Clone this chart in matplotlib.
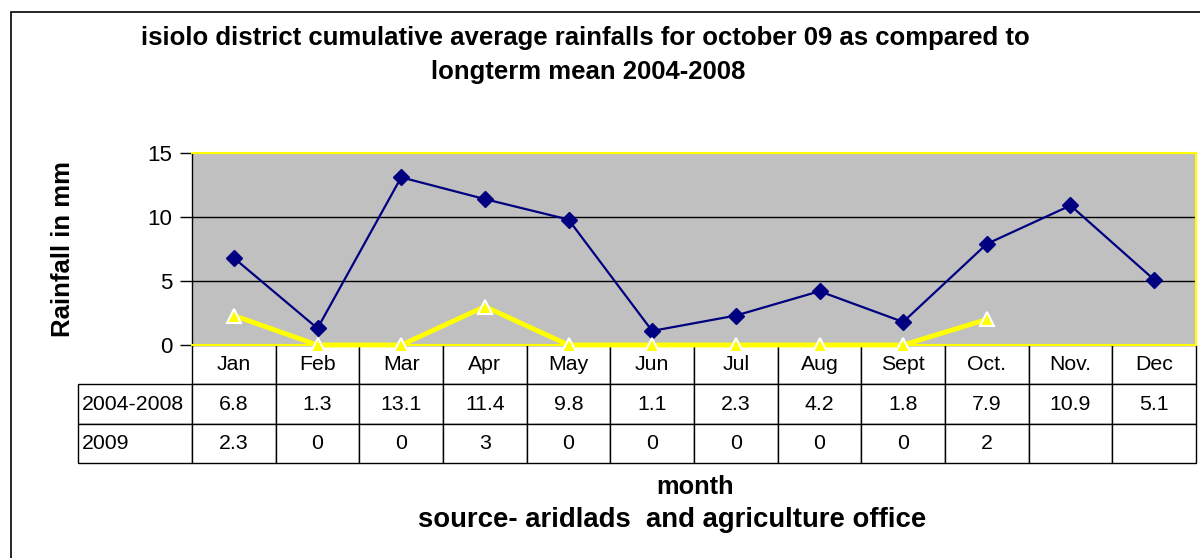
import matplotlib
matplotlib.use("Agg")
import matplotlib.pyplot as plt
from matplotlib.table import Table
from matplotlib.patches import Rectangle

months = ['Jan', 'Feb', 'Mar', 'Apr', 'May', 'Jun', 'Jul', 'Aug', 'Sept', 'Oct.', 'Nov.', 'Dec']
mean_2004_2008 = [6.8, 1.3, 13.1, 11.4, 9.8, 1.1, 2.3, 4.2, 1.8, 7.9, 10.9, 5.1]
rain_2009 = [2.3, 0, 0, 3, 0, 0, 0, 0, 0, 2]
series_names = ['2004-2008', '2009']

plt.rcParams['font.family'] = ['Liberation Sans', 'DejaVu Sans']

W, H = 1200, 558
fig = plt.figure(figsize=(W / 100, H / 100), dpi=100)

# outer chart border (only left/top visible in the crop)
fig.add_artist(Rectangle((11 / W, -0.05), 1.2, 1 - 12 / H + 0.05, transform=fig.transFigure,
                         fill=False, edgecolor='black', linewidth=1.2))

# plot area in pixels: x 192..1196, y 153..345
ax = fig.add_axes([192 / W, 1 - 345 / H, 1004 / W, 192 / H])
ax.set_facecolor('#c0c0c0')
x = list(range(len(months)))
ax.set_xlim(-0.5, len(months) - 0.5)
ax.set_ylim(0, 15)
ax.set_yticks([0, 5, 10, 15])
ax.tick_params(axis='y', labelsize=16, length=9, width=1, direction='out', pad=5)
ax.set_xticks([])
for y in [5, 10]:
    ax.axhline(y, color='black', linewidth=1, zorder=1)
for side in ['top', 'right', 'bottom']:
    ax.spines[side].set_color('yellow')
    ax.spines[side].set_linewidth(1.5)
ax.spines['left'].set_color('black')
ax.spines['left'].set_linewidth(1)

ax.plot(x, mean_2004_2008, color='#000080', linewidth=1.6, marker='D', markersize=8,
        markerfacecolor='#000080', markeredgecolor='#000080', zorder=3, clip_on=False)
ax.plot(x[:len(rain_2009)], rain_2009, color='yellow', linewidth=3.5, marker='^', markersize=10,
        markerfacecolor='yellow', markeredgecolor='white', markeredgewidth=1.5, zorder=4, clip_on=False)

ax.set_ylabel('Rainfall in mm', fontsize=18.5, fontweight='bold', labelpad=52)

# data table beneath the plot: x 78..1196, y 345..463
tb = Table(ax, bbox=[(78 - 192) / 1004, -(463 - 345) / 192, (1196 - 78) / 1004, (463 - 345) / 192])
label_w, col_w, row_h = 114, 1004 / 12, 1
for j, m in enumerate(months):
    tb.add_cell(0, j + 1, col_w, row_h, text=m, loc='center', edgecolor='black')
rows = [mean_2004_2008, rain_2009]
for i, (name, vals) in enumerate(zip(series_names, rows)):
    tb.add_cell(i + 1, 0, label_w, row_h, text=name, loc='left', edgecolor='black')
    for j in range(len(months)):
        txt = '' if j >= len(vals) else ('%g' % vals[j])
        tb.add_cell(i + 1, j + 1, col_w, row_h, text=txt, loc='center', edgecolor='black')
tb.auto_set_font_size(False)
tb.set_fontsize(15.3)
for (r, c), cell in tb.get_celld().items():
    cell.set_linewidth(1)
    if c == 0:
        cell.PAD = 0.03
ax.add_table(tb)

title_kw = dict(ha='center', va='center', fontsize=18.5, fontweight='bold')
fig.text(585 / W, 1 - 38 / H, 'isiolo district cumulative average rainfalls for october 09 as compared to', **title_kw)
fig.text(588 / W, 1 - 72 / H, 'longterm mean 2004-2008', **title_kw)
fig.text(695 / W, 1 - 487 / H, 'month', ha='center', va='center', fontsize=18.3, fontweight='bold')
fig.text(672 / W, 1 - 520 / H, 'source- aridlads  and agriculture office', ha='center', va='center',
         fontsize=19.8, fontweight='bold')

fig.savefig('out.png', dpi=100)
